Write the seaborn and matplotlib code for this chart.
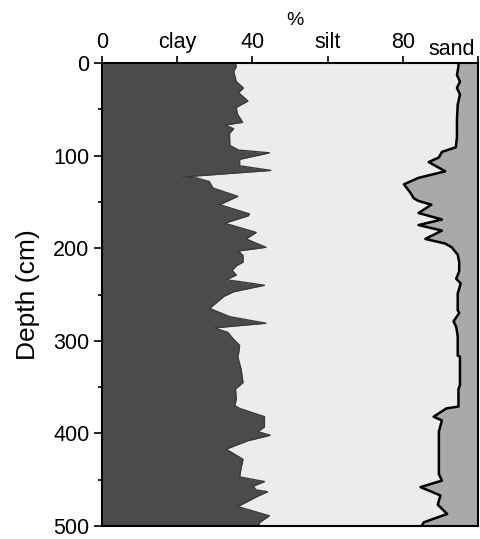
import matplotlib
matplotlib.use("Agg")
import matplotlib.pyplot as plt
import seaborn as sns

sns.set_style("ticks")
plt.rcParams["font.family"] = ["Liberation Sans", "DejaVu Sans"]
plt.rcParams["text.color"] = "black"
plt.rcParams["axes.labelcolor"] = "black"
plt.rcParams["xtick.color"] = "black"
plt.rcParams["ytick.color"] = "black"

# clay boundary (% clay) vs depth (cm)
clay_depth = [0, 4, 9, 20, 27, 32, 41, 48, 55, 64, 67, 71, 76, 89, 94, 97, 104,
              111, 116, 123, 124, 128, 135, 144, 153, 163, 165, 173, 183, 190,
              199, 203, 208, 215, 219, 224, 229, 234, 240, 247, 252, 265, 274,
              281, 286, 291, 298, 305, 314, 317, 331, 345, 352, 363, 370, 373,
              382, 393, 398, 402, 408, 417, 428, 437, 447, 452, 457, 461, 463,
              468, 479, 489, 496, 500]
clay_pct = [35.5, 35.7, 35.0, 35.7, 37.6, 36.3, 38.8, 35.7, 36.0, 37.4, 32.8,
            35.0, 33.9, 34.0, 36.3, 44.5, 36.6, 36.6, 44.9, 21.5, 25.0, 28.5,
            29.5, 36.1, 31.3, 39.2, 38.9, 32.6, 41.0, 38.3, 43.6, 36.3, 37.5,
            37.5, 35.7, 34.6, 35.7, 33.0, 43.2, 35.0, 32.4, 28.6, 34.0, 43.6,
            29.9, 33.5, 34.9, 36.6, 36.3, 36.1, 37.0, 37.5, 35.5, 35.7, 35.3,
            36.6, 43.2, 43.2, 41.4, 44.7, 38.7, 33.0, 37.5, 37.0, 36.6, 43.2,
            40.2, 41.0, 44.0, 41.3, 36.1, 44.5, 42.0, 41.5]

# clay + silt boundary (start of sand) vs depth (cm)
sand_depth = [0, 4, 13, 20, 27, 34, 45, 62, 80, 91, 96, 102, 107, 117, 124,
              131, 140, 146, 149, 153, 162, 169, 175, 181, 190, 195, 199, 207,
              215, 225, 233, 238, 249, 267, 270, 279, 285, 295, 316, 317, 348,
              352, 371, 373, 382, 386, 398, 444, 451, 458, 467, 477, 487, 496,
              500]
clay_silt_pct = [94.8, 94.8, 94.4, 95.2, 94.4, 95.2, 94.6, 94.4, 94.4, 94.1,
                 90.4, 89.6, 86.9, 91.3, 84.2, 80.3, 82.0, 82.9, 84.2, 87.6,
                 84.2, 90.4, 84.2, 90.4, 86.0, 91.3, 93.0, 94.6, 95.0, 95.0,
                 94.2, 95.4, 94.6, 94.6, 95.0, 93.5, 94.2, 94.6, 94.6, 95.2,
                 95.2, 94.8, 94.8, 91.6, 88.2, 90.4, 89.6, 89.6, 90.4, 84.7,
                 90.0, 89.3, 91.8, 85.6, 85.0]

x_ticks = [0, 20, 40, 60, 80, 100]
x_labels = ["0", "clay", "40", "silt", "80", ""]

fig = plt.figure(figsize=(4.81, 5.39), dpi=100)
ax = fig.add_axes([102 / 481, 13 / 539, 376 / 481, 463 / 539])

# silt is the background, clay and sand are drawn over it
ax.fill_betweenx([0, 500], 0, 100, color="#ececec", lw=0)
ax.fill_betweenx(clay_depth, 0, clay_pct, color="#4b4b4b", lw=0)
ax.plot(clay_pct, clay_depth, color="#3a3a3a", lw=1)
ax.fill_betweenx(sand_depth, clay_silt_pct, 100, color="#a9a9a9", lw=0)
sns.lineplot(x=clay_silt_pct, y=sand_depth, orient="y", sort=False,
             color="black", lw=1.8, ax=ax)

ax.set_xlim(0, 100)
ax.set_ylim(500, 0)

ax.xaxis.tick_top()
ax.set_xticks(x_ticks, labels=x_labels)
ax.set_xticks([93], labels=["sand"], minor=True)
ax.tick_params(axis="x", which="major", length=5, width=1.2, pad=2,
               labelsize=15.5, top=True, bottom=False)
ax.tick_params(axis="x", which="minor", length=0, pad=2, labelsize=15.5,
               top=True, bottom=False, labeltop=True)

ax.set_yticks(range(0, 501, 100))
ax.set_yticks(range(50, 500, 100), minor=True)
ax.tick_params(axis="y", which="major", length=6, width=1.2, labelsize=15.5, pad=3)
ax.tick_params(axis="y", which="minor", length=3, width=1.2)

ax.set_ylabel("Depth (cm)", fontsize=19)
ax.yaxis.set_label_coords(-0.165, 0.5)
ax.set_xlabel("")

ax.text(51.3, 1.092, "%", transform=ax.get_xaxis_transform(),
        ha="center", va="center", fontsize=14)

for s in ax.spines.values():
    s.set_visible(True)
    s.set_color("black")
    s.set_linewidth(1.5)

fig.savefig("out.png", dpi=100)
